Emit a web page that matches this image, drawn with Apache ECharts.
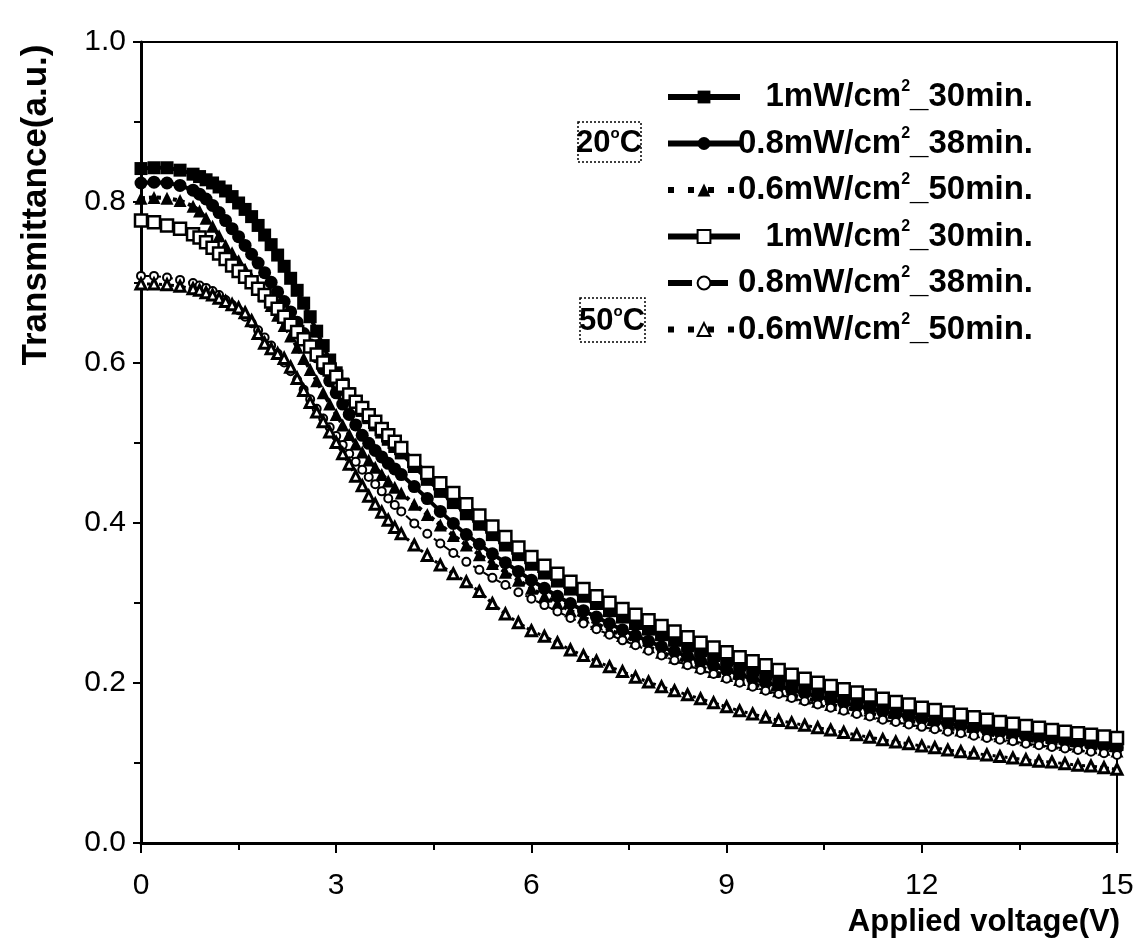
<!DOCTYPE html>
<html>
<head>
<meta charset="utf-8">
<script src="https://cdn.jsdelivr.net/npm/echarts@6/dist/echarts.min.js"></script>
<style>html,body{margin:0;padding:0;background:#fff}#c{width:1137px;height:948px}</style>
</head>
<body>
<div id="c"></div>
<script>
// Applied voltage (V)
const voltage = [0,0.2,0.4,0.6,
 0.8,0.9,1.0,1.1,1.2,1.3,1.4,1.5,1.6,1.7,1.8,1.9,2.0,2.1,2.2,2.3,2.4,2.5,2.6,2.7,2.8,2.9,3.0,3.1,3.2,3.3,3.4,3.5,3.6,3.7,3.8,3.9,4.0,
 4.2,4.4,4.6,4.8,5.0,5.2,5.4,5.6,5.8,6.0,6.2,6.4,6.6,6.8,7.0,7.2,7.4,7.6,7.8,8.0,8.2,8.4,8.6,8.8,9.0,9.2,9.4,9.6,9.8,10.0,
 10.2,10.4,10.6,10.8,11.0,11.2,11.4,11.6,11.8,12.0,12.2,12.4,12.6,12.8,13.0,13.2,13.4,13.6,13.8,14.0,14.2,14.4,14.6,14.8,15.0];

// 20 C, 1 mW/cm2, 30 min (filled squares)
const t20_1mW = [.842,.843,.843,.840,
 .835,.832,.828,.824,.819,.814,.807,.799,.791,.782,.771,.759,.747,.734,.720,.705,.690,.674,.657,.639,.621,.603,.587,.573,.561,.550,.540,.531,.522,.513,.504,.495,.487,
 .470,.454,.439,.425,.411,.398,.385,.372,.360,.348,.337,.327,.317,.308,.299,.290,.282,.274,.267,.260,.253,.246,.240,.234,.228,.222,.216,.211,.206,.201,
 .196,.192,.187,.183,.179,.175,.171,.168,.164,.161,.158,.155,.152,.149,.146,.143,.141,.138,.136,.133,.131,.129,.127,.125,.123];
// 20 C, 0.8 mW/cm2, 38 min (filled circles)
const t20_08mW = [.824,.825,.824,.821,
 .815,.810,.804,.796,.787,.777,.767,.757,.746,.735,.724,.712,.700,.688,.676,.663,.650,.636,.622,.607,.592,.577,.562,.548,.535,.522,.509,.499,.490,.482,.474,.467,.460,
 .445,.430,.414,.399,.385,.373,.361,.350,.339,.328,.318,.308,.299,.290,.282,.274,.266,.259,.252,.245,.239,.233,.227,.221,.216,.210,.205,.200,.196,.191,
 .187,.183,.179,.175,.171,.168,.164,.161,.158,.155,.152,.149,.146,.143,.141,.138,.136,.133,.131,.129,.127,.125,.123,.121,.119];
// 20 C, 0.6 mW/cm2, 50 min (filled triangles)
const t20_06mW = [.805,.806,.805,.802,
 .795,.789,.780,.770,.758,.746,.737,.727,.716,.705,.694,.683,.671,.659,.646,.633,.619,.605,.591,.577,.562,.548,.535,.522,.510,.498,.488,.478,.469,.460,.452,.444,.437,
 .423,.410,.397,.384,.372,.360,.349,.338,.328,.318,.308,.299,.290,.282,.274,.266,.259,.252,.245,.238,.232,.226,.220,.214,.209,.204,.199,.194,.190,.185,
 .181,.177,.173,.169,.166,.162,.159,.156,.153,.150,.147,.144,.141,.139,.136,.134,.131,.129,.127,.125,.123,.121,.119,.117,.115];
// 50 C, 1 mW/cm2, 30 min (open squares)
const t50_1mW = [.777,.775,.771,.767,
 .760,.756,.750,.743,.736,.729,.721,.714,.707,.700,.692,.684,.676,.667,.657,.647,.638,.629,.620,.610,.600,.591,.582,.571,.560,.551,.543,.534,.526,.517,.509,.501,.493,
 .477,.462,.449,.437,.423,.409,.395,.382,.369,.357,.346,.336,.326,.317,.308,.300,.292,.285,.278,.271,.264,.257,.250,.244,.238,.232,.227,.222,.216,.210,
 .205,.200,.196,.192,.188,.184,.180,.176,.173,.169,.166,.163,.160,.157,.154,.151,.149,.146,.144,.141,.139,.137,.135,.133,.131];
// 50 C, 0.8 mW/cm2, 38 min (open circles)
const t50_08mW = [.708,.708,.706,.703,
 .699,.696,.693,.689,.684,.678,.672,.665,.657,.649,.640,.631,.621,.611,.600,.589,.578,.566,.554,.542,.530,.519,.508,.497,.486,.476,.466,.457,.448,.439,.430,.422,.414,
 .399,.386,.374,.362,.351,.341,.331,.322,.313,.305,.297,.289,.281,.274,.267,.260,.253,.247,.240,.234,.228,.222,.216,.211,.205,.200,.195,.190,.186,.181,
 .177,.173,.169,.165,.161,.158,.154,.151,.148,.145,.142,.139,.137,.134,.131,.129,.127,.124,.122,.120,.118,.116,.114,.112,.110];
// 50 C, 0.6 mW/cm2, 50 min (open triangles)
const t50_06mW = [.698,.698,.697,.695,
 .692,.690,.687,.684,.680,.676,.672,.668,.662,.652,.636,.624,.617,.611,.605,.594,.580,.565,.550,.538,.526,.513,.500,.486,.473,.458,.446,.433,.423,.413,.403,.394,.386,
 .372,.359,.347,.336,.326,.314,.299,.286,.275,.265,.258,.250,.241,.234,.227,.220,.214,.207,.201,.195,.190,.185,.180,.175,.170,.165,.161,.157,.153,.150,
 .147,.144,.141,.138,.135,.132,.129,.126,.124,.121,.119,.116,.114,.112,.110,.108,.106,.104,.102,.101,.099,.097,.096,.094,.092];

const legendLabels = {
  s1: '1mW/cm', s2: '0.8mW/cm', s3: '0.6mW/cm', s4: '1mW/cm', s5: '0.8mW/cm', s6: '0.6mW/cm'
};
const legendTails = {
  s1: '_30min.', s2: '_38min.', s3: '_50min.', s4: '_30min.', s5: '_38min.', s6: '_50min.'
};
const xTicks = [0, 3, 6, 9, 12, 15];
const yTicks = [0.0, 0.2, 0.4, 0.6, 0.8, 1.0];

const FONT = "'Liberation Sans', Arial, sans-serif";
const pairs = ys => voltage.map((v, i) => [v, ys[i]]);

function mk(name, ys, symbol, size, hollow, lineType, lineWidth, bw) {
  return {
    name: name, type: 'line', data: pairs(ys), symbol: symbol, symbolSize: size,
    showAllSymbol: true, smooth: false,
    lineStyle: {color: '#000', width: lineWidth, type: lineType},
    itemStyle: hollow ? {color: '#fff', borderColor: '#000', borderWidth: bw} : {color: '#000', borderColor: '#000', borderWidth: 0},
    emphasis: {disabled: true}
  };
}

const chart = echarts.init(document.getElementById('c'), null, {renderer: 'canvas'});
chart.setOption({
  animation: false,
  backgroundColor: '#fff',
  grid: {left: 141, right: 20, top: 42, bottom: 105, show: true, borderColor: '#000', borderWidth: 2, backgroundColor: 'transparent'},
  xAxis: {
    type: 'value', min: xTicks[0], max: xTicks[xTicks.length - 1], interval: 3,
    axisLine: {show: true, onZero: false, lineStyle: {color: '#000', width: 3}},
    axisTick: {show: true, inside: false, length: 10, lineStyle: {color: '#000', width: 2}},
    minorTick: {show: true, splitNumber: 2, length: 7, lineStyle: {color: '#000', width: 2}},
    splitLine: {show: false},
    axisLabel: {color: '#000', fontSize: 30, fontFamily: FONT, margin: 28}
  },
  yAxis: {
    type: 'value', min: yTicks[0], max: yTicks[yTicks.length - 1], interval: 0.2,
    axisLine: {show: true, onZero: false, lineStyle: {color: '#000', width: 3}},
    axisTick: {show: true, inside: false, length: 8, lineStyle: {color: '#000', width: 2}},
    minorTick: {show: true, splitNumber: 2, length: 7, lineStyle: {color: '#000', width: 2}},
    splitLine: {show: false},
    axisLabel: {color: '#000', fontSize: 30, fontFamily: FONT, margin: 15, formatter: v => v.toFixed(1)}
  },
  legend: {
    orient: 'vertical', left: 660, top: 74, itemWidth: 72, itemHeight: 16, itemGap: 12,
    selectedMode: false,
    data: [
      {name: 's1', lineStyle: {width: 6}},
      {name: 's2', lineStyle: {width: 6}},
      {name: 's3', lineStyle: {width: 6, type: [6, 14]}},
      {name: 's4', lineStyle: {width: 6}},
      {name: 's5', lineStyle: {width: 6}},
      {name: 's6', lineStyle: {width: 6, type: [6, 14]}}
    ],
    formatter: n => '{a|' + legendLabels[n] + '}{s|2}{a|' + legendTails[n] + '}',
    textStyle: {
      width: 288, color: '#000',
      rich: {
        a: {fontSize: 33, fontWeight: 'bold', fontFamily: FONT, color: '#000', align: 'right', lineHeight: 36},
        s: {fontSize: 16, fontWeight: 'bold', fontFamily: FONT, color: '#000', align: 'right', verticalAlign: 'top', lineHeight: 36}
      }
    }
  },
  graphic: [
    {type: 'rect', shape: {x: 578, y: 122, width: 63, height: 40},
     style: {fill: '#fff', stroke: '#000', lineWidth: 1.5, lineDash: [2, 2]}, z: 10},
    {type: 'text', x: 609, y: 143, z: 11,
     style: {text: '{a|20}{s|o}{a|C}', align: 'center', verticalAlign: 'middle',
       rich: {a: {fontSize: 31, fontWeight: 'bold', fontFamily: FONT, fill: '#000', lineHeight: 34},
              s: {fontSize: 15, fontWeight: 'bold', fontFamily: FONT, fill: '#000', verticalAlign: 'top', lineHeight: 34}}}},
    {type: 'rect', shape: {x: 580, y: 298, width: 65, height: 44},
     style: {fill: '#fff', stroke: '#000', lineWidth: 1.5, lineDash: [2, 2]}, z: 10},
    {type: 'text', x: 612, y: 321, z: 11,
     style: {text: '{a|50}{s|o}{a|C}', align: 'center', verticalAlign: 'middle',
       rich: {a: {fontSize: 31, fontWeight: 'bold', fontFamily: FONT, fill: '#000', lineHeight: 34},
              s: {fontSize: 15, fontWeight: 'bold', fontFamily: FONT, fill: '#000', verticalAlign: 'top', lineHeight: 34}}}},
    {type: 'text', x: 36, y: 205, rotation: Math.PI / 2, z: 11,
     style: {text: 'Transmittance(a.u.)', align: 'center', verticalAlign: 'middle',
       font: "bold 35px 'Liberation Sans', Arial, sans-serif", fill: '#000'}},
    {type: 'text', x: 1120, y: 922, z: 11,
     style: {text: 'Applied voltage(V)', align: 'right', verticalAlign: 'middle',
       font: "bold 31px 'Liberation Sans', Arial, sans-serif", fill: '#000'}}
  ],
  series: [
    mk('s1', t20_1mW, 'rect', 13, false, 'solid', 4, 0),
    mk('s2', t20_08mW, 'circle', 13, false, 'solid', 4, 0),
    mk('s3', t20_06mW, 'triangle', 13, false, 'dotted', 4, 0),
    mk('s4', t50_1mW, 'rect', 12, true, 'solid', 4, 2.5),
    mk('s5', t50_08mW, 'circle', 8, true, 'dashed', 2, 2),
    mk('s6', t50_06mW, 'triangle', 10, true, 'dotted', 3, 3)
  ]
});
</script>
</body>
</html>
